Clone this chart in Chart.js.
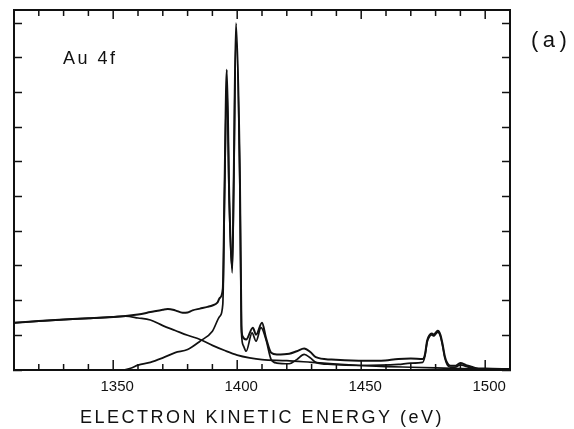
<!DOCTYPE html>
<html>
<head>
<meta charset="utf-8">
<script src="https://cdn.jsdelivr.net/npm/chart.js@4/dist/chart.umd.min.js"></script>
<style>
  html, body { margin: 0; padding: 0; background: #fff; }
  #wrap { width: 574px; height: 429px; position: relative; }
</style>
</head>
<body>
<div id="wrap"><canvas id="c" width="574" height="429"></canvas></div>
<script>
// ---- data ----
const rawEnergy = [1310,1320,1330,1340,1350,1355,1360,1365,1370,1372,1375,1378,1380,1382,1385,1388,1390,1392,1393,1394.2,1394.9,1395.8,1396.8,1398.0,1398.6,1399.5,1401.1,1401.7,1402.2,1403.6,1406.3,1407.6,1410.0,1411.6,1413.7,1416,1421,1424,1427,1429.5,1431.7,1438,1449,1458,1465,1470,1474.8,1475.7,1476.6,1477.5,1478.5,1479.3,1480.1,1480.9,1481.9,1482.8,1483.7,1484.7,1486,1487.8,1490,1492.3,1496,1500,1510];
const rawIntensity = [1.36,1.41,1.455,1.49,1.53,1.56,1.60,1.67,1.74,1.76,1.72,1.65,1.66,1.72,1.77,1.82,1.86,1.94,2.08,2.35,5.3,8.66,5.0,2.95,5.5,10.0,5.5,1.3,0.97,0.88,1.22,1.02,1.36,0.93,0.50,0.45,0.47,0.54,0.62,0.52,0.37,0.30,0.27,0.27,0.32,0.33,0.32,0.45,0.85,1.0,1.05,1.02,1.08,1.13,1.02,0.75,0.4,0.2,0.12,0.12,0.2,0.14,0.06,0.04,0.03];

const subEnergy = [1310,1354,1357,1360,1365,1370,1375,1380,1385,1390,1393,1394.2,1394.9,1395.8,1396.8,1398.0,1398.6,1399.5,1401.1,1401.7,1402.5,1403.6,1406.0,1407.6,1409.6,1411.6,1413.7,1416,1421,1424,1427,1429.5,1431.7,1438,1449,1465,1470,1474.8,1475.7,1476.6,1477.5,1478.5,1479.3,1480.1,1480.9,1481.9,1482.8,1483.7,1484.7,1486,1487.8,1490,1492.3,1496,1510];
const subIntensity = [0,0,0.05,0.14,0.22,0.35,0.50,0.59,0.83,1.12,1.55,1.9,5.0,8.3,4.8,2.8,5.3,9.6,5.2,1.1,0.7,0.54,1.07,0.83,1.22,0.88,0.30,0.2,0.18,0.3,0.45,0.35,0.22,0.16,0.13,0.16,0.2,0.22,0.4,0.8,0.96,1.01,0.98,1.04,1.09,0.98,0.7,0.35,0.15,0.08,0.08,0.15,0.1,0.03,0.0];

const bgEnergy = [1310,1320,1330,1340,1350,1355,1360,1365,1370,1375,1380,1385,1390,1395,1400,1405,1410,1420,1430,1440,1450,1460,1470,1480,1490,1500,1510];
const bgIntensity = [1.36,1.41,1.455,1.49,1.53,1.55,1.50,1.44,1.28,1.14,1.0,0.88,0.71,0.56,0.43,0.35,0.30,0.27,0.22,0.17,0.13,0.1,0.08,0.06,0.04,0.03,0.02];

const xTickLabels = [1350, 1400, 1450, 1500];
const xMin = 1310, xMax = 1510, yMin = 0, yMax = 10.38;
const panelLabel = "(a)";
const peakLabel = "Au 4f";
const xTitle = "ELECTRON KINETIC ENERGY (eV)";

const pts = (xs, ys) => xs.map((x, i) => ({x: x, y: ys[i]}));
const INK = '#111';

const isMajor = v => xTickLabels.some(m => Math.abs(m - v) < 1e-6);

const spacingPlugin = {
  id: 'spacing',
  beforeDraw(chart) { chart.ctx.letterSpacing = '2.5px'; },
  beforeDatasetsDraw(chart) { chart.ctx.letterSpacing = '0px'; }
};

const decoPlugin = {
  id: 'deco',
  afterDraw(chart) {
    const {ctx, chartArea: a, scales: {x}} = chart;
    ctx.save();
    ctx.strokeStyle = INK;
    ctx.lineWidth = 1.5;
    x.ticks.forEach(t => {
      const px = x.getPixelForValue(t.value);
      const maj = isMajor(t.value);
      ctx.beginPath();
      ctx.moveTo(px, a.bottom);
      ctx.lineTo(px, a.bottom - (maj ? 10 : 6));
      ctx.moveTo(px, a.top);
      ctx.lineTo(px, a.top + (maj ? 9 : 6));
      ctx.stroke();
    });
    ctx.fillStyle = INK;
    ctx.textBaseline = 'alphabetic';
    ctx.textAlign = 'left';
    ctx.letterSpacing = '2.5px';
    ctx.font = '18px "Liberation Sans", Arial, sans-serif';
    ctx.fillText(peakLabel, 63, 64);
    ctx.letterSpacing = '4.5px';
    ctx.font = '22px "Liberation Sans", Arial, sans-serif';
    ctx.fillText(panelLabel, 531, 47);
    ctx.restore();
  }
};

new Chart(document.getElementById('c'), {
  type: 'line',
  data: {
    datasets: [
      { label: 'measured', data: pts(rawEnergy, rawIntensity), borderColor: INK, borderWidth: 2, pointRadius: 0, cubicInterpolationMode: 'monotone', fill: false },
      { label: 'background subtracted', data: pts(subEnergy, subIntensity), borderColor: INK, borderWidth: 1.7, pointRadius: 0, cubicInterpolationMode: 'monotone', fill: false },
      { label: 'background', data: pts(bgEnergy, bgIntensity), borderColor: INK, borderWidth: 1.7, pointRadius: 0, cubicInterpolationMode: 'monotone', fill: false }
    ]
  },
  options: {
    responsive: false,
    animation: false,
    devicePixelRatio: 1,
    layout: { padding: { left: 14, right: 64, top: 10, bottom: 0 } },
    plugins: { legend: { display: false }, tooltip: { enabled: false }, title: { display: false } },
    scales: {
      x: {
        type: 'linear', position: 'bottom', min: xMin, max: xMax,
        grid: { display: false, drawTicks: false },
        border: { display: true, color: INK, width: 2 },
        ticks: {
          stepSize: 10, autoSkip: false, maxRotation: 0, includeBounds: false,
          padding: 9, labelOffset: 4, z: 1, color: INK,
          font: { family: '"Liberation Sans", Arial, sans-serif', size: 15, lineHeight: 1 },
          callback: v => isMajor(v) ? String(Math.round(v)) : ''
        },
        title: {
          display: true, text: xTitle, color: INK,
          font: { family: '"Liberation Sans", Arial, sans-serif', size: 18, lineHeight: 1 },
          padding: { top: 0, bottom: 2 }
        },
        afterFit: s => { s.height = 59; }
      },
      x2: {
        type: 'linear', position: 'top', min: xMin, max: xMax,
        grid: { display: false, drawTicks: false },
        border: { display: true, color: INK, width: 2 },
        ticks: { display: false, stepSize: 10 },
        afterFit: s => { s.height = 0; }
      },
      y: {
        type: 'linear', position: 'left', min: yMin, max: yMax,
        grid: { display: true, drawOnChartArea: false, drawTicks: true, tickLength: -8, tickColor: INK, tickWidth: 1.5 },
        border: { display: true, color: INK, width: 2 },
        ticks: { display: false, stepSize: 1, includeBounds: false },
        afterFit: s => { s.width = 0; }
      },
      y2: {
        type: 'linear', position: 'right', min: yMin, max: yMax,
        grid: { display: true, drawOnChartArea: false, drawTicks: true, tickLength: -8, tickColor: INK, tickWidth: 1.5 },
        border: { display: true, color: INK, width: 2 },
        ticks: { display: false, stepSize: 1, includeBounds: false },
        afterFit: s => { s.width = 0; }
      }
    }
  },
  plugins: [spacingPlugin, decoPlugin]
});
</script>
</body>
</html>
